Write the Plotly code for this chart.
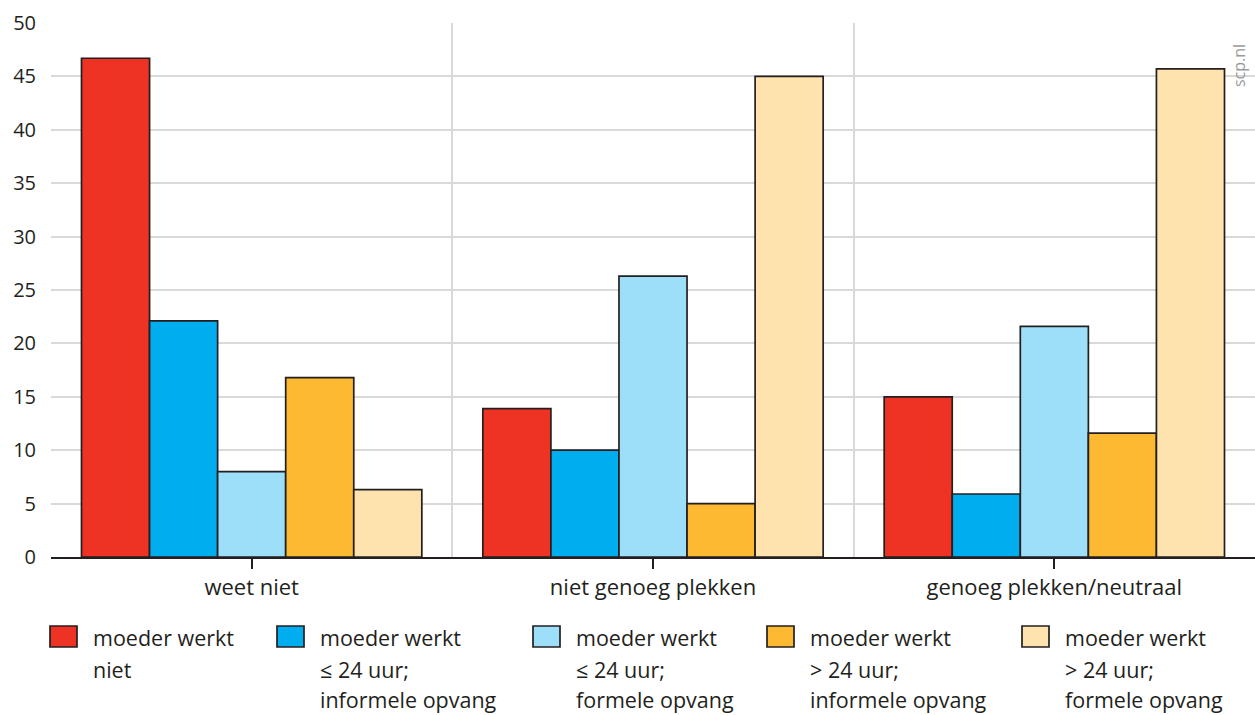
import plotly.graph_objects as go

categories = ["weet niet", "niet genoeg plekken", "genoeg plekken/neutraal"]
series_labels = [
    ["moeder werkt", "niet"],
    ["moeder werkt", "≤ 24 uur;", "informele opvang"],
    ["moeder werkt", "≤ 24 uur;", "formele opvang"],
    ["moeder werkt", "> 24 uur;", "informele opvang"],
    ["moeder werkt", "> 24 uur;", "formele opvang"],
]
values_niet = [46.7, 13.9, 15.0]
values_le24_informeel = [22.1, 10.0, 5.9]
values_le24_formeel = [8.0, 26.3, 21.6]
values_gt24_informeel = [16.8, 5.0, 11.6]
values_gt24_formeel = [6.3, 45.0, 45.7]
series_values = [values_niet, values_le24_informeel, values_le24_formeel,
                 values_gt24_informeel, values_gt24_formeel]
colors = ["#EE3224", "#00AEEF", "#9DDFF9", "#FDB931", "#FEE3AE"]
y_ticks = [0, 5, 10, 15, 20, 25, 30, 35, 40, 45, 50]

W, H = 1255, 715
ML, MR, MT, MB = 51, 0, 23, 158
PW, PH = W - ML - MR, H - MT - MB
FONT = "Open Sans"
DARK = "#231f20"

def px(xp):
    return (xp - ML) / PW

def py(yp):
    return (H - MB - yp) / PH

xpos = list(range(len(categories)))

fig = go.Figure()
for lab, vals, col in zip(series_labels, series_values, colors):
    fig.add_trace(go.Bar(
        x=xpos, y=vals, name=" ".join(lab),
        marker=dict(color=col, line=dict(color=DARK, width=1.7)),
        showlegend=False,
    ))

fig.update_layout(
    width=W, height=H,
    margin=dict(l=ML, r=MR, t=MT, b=MB, pad=0),
    plot_bgcolor="white", paper_bgcolor="white",
    barmode="group", bargap=0.152, bargroupgap=0,
    font=dict(family=FONT, color=DARK, size=20),
)
fig.update_xaxes(
    range=[-0.5, 2.5], tickmode="array", tickvals=xpos, ticktext=categories,
    showgrid=False, zeroline=False,
    showline=True, linecolor=DARK, linewidth=2,
    ticks="outside", ticklen=10, tickwidth=2, tickcolor=DARK,
    tickfont=dict(size=22, family=FONT, color=DARK),
    minor=dict(tickmode="array", tickvals=[-0.5, 0.5, 1.5, 2.5], showgrid=True,
               gridcolor="#d9d9d9", gridwidth=1.5, ticks=""),
)
fig.update_yaxes(
    range=[0, 50], tickmode="array", tickvals=y_ticks,
    showgrid=True, gridcolor="#d9d9d9", gridwidth=1.5, zeroline=False,
    ticks="", ticklabelstandoff=14,
    tickfont=dict(size=20, family=FONT, color=DARK),
)

# legend drawn as shapes + text lines
sw_x = [50, 277, 533, 767, 1022]
sw_w, sw_top, sw_bot = 27, 626, 647
line_y = [637, 669, 700]
for xs, lab, col in zip(sw_x, series_labels, colors):
    fig.add_shape(type="rect", xref="paper", yref="paper",
                  x0=px(xs), x1=px(xs + sw_w), y0=py(sw_bot), y1=py(sw_top),
                  fillcolor=col, line=dict(color=DARK, width=1.7))
    for i, t in enumerate(lab):
        fig.add_annotation(text=t, xref="paper", yref="paper", x=px(xs + 41), y=py(line_y[i]),
                           xanchor="left", yanchor="middle", showarrow=False,
                           font=dict(size=21.5, family=FONT, color=DARK))

fig.add_annotation(text="scp.nl", xref="paper", yref="paper", x=px(1239), y=py(66),
                   xanchor="center", yanchor="middle", showarrow=False, textangle=-90,
                   font=dict(size=16, family=FONT, color="#9a9a9a"))

fig.write_html("out.html", config={"displayModeBar": False},
               post_script="document.body.style.margin='0';document.body.style.overflow='hidden';")
